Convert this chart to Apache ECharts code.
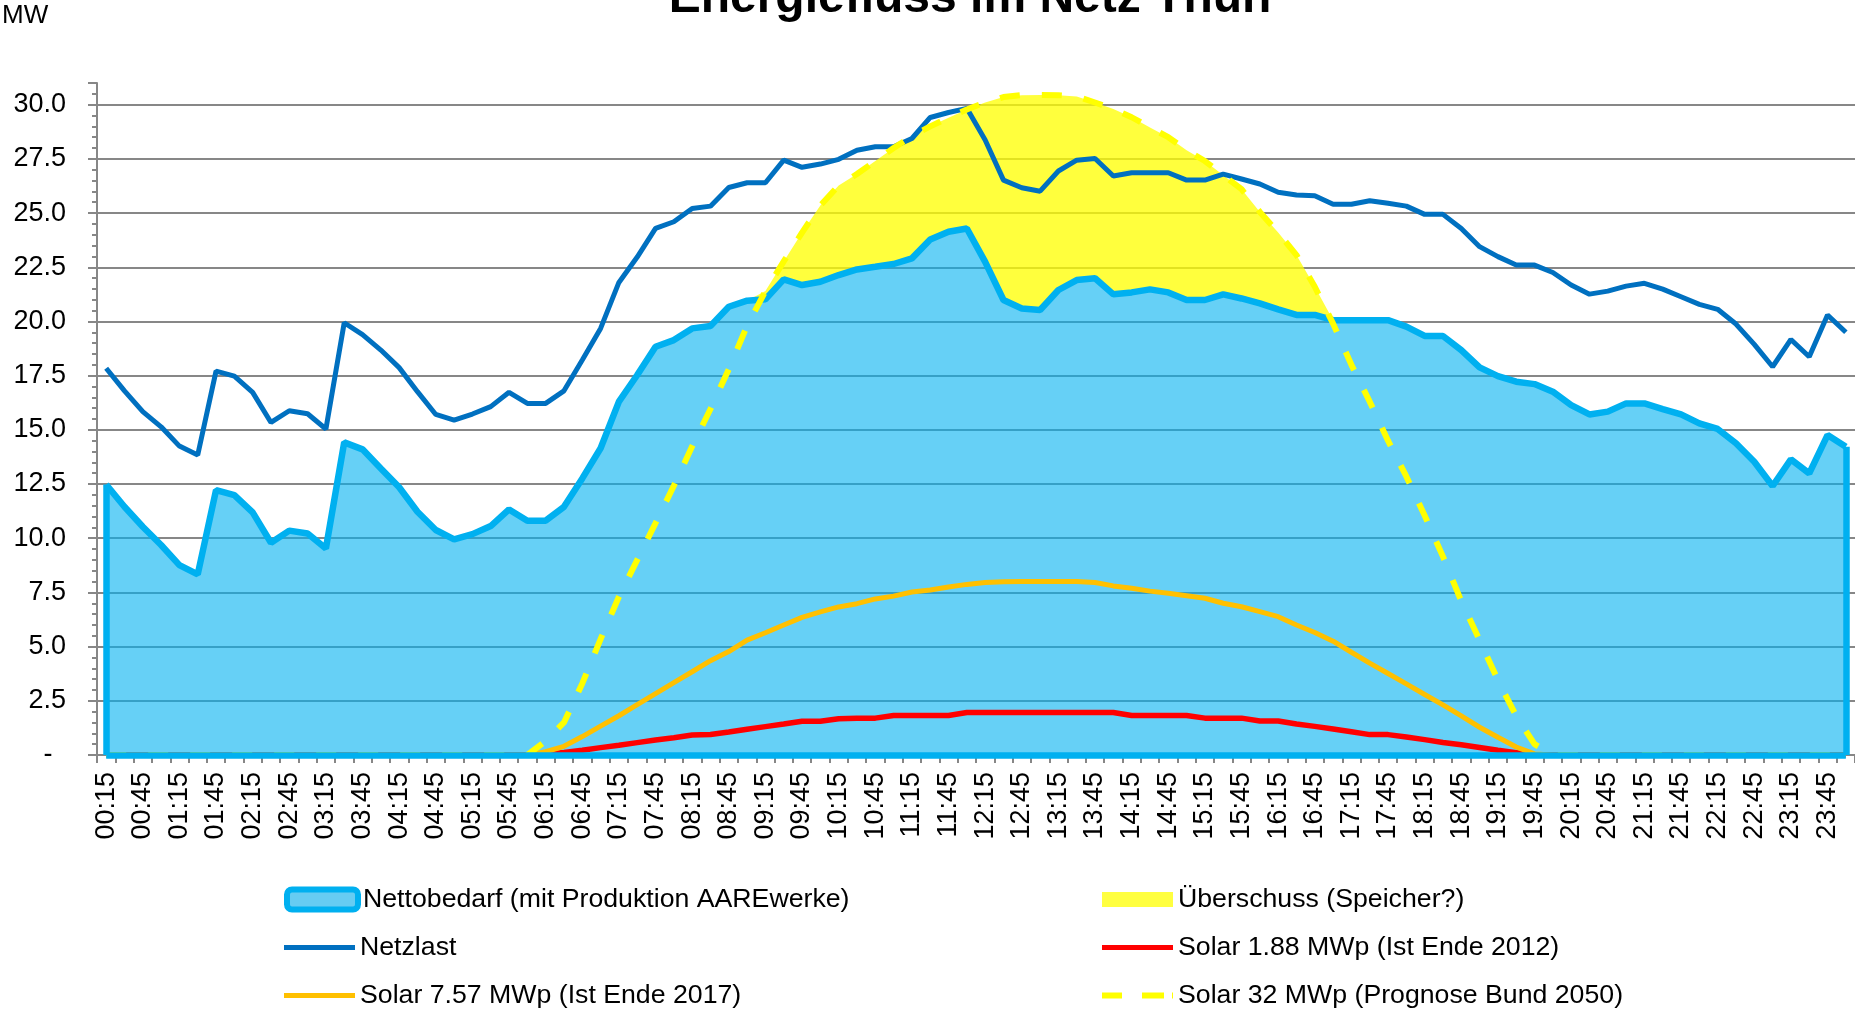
<!DOCTYPE html>
<html>
<head>
<meta charset="utf-8">
<script src="https://cdn.jsdelivr.net/npm/echarts@6/dist/echarts.min.js"></script>
<style>
html,body{margin:0;padding:0;background:#fff;}
#chart{width:1855px;height:1013px;}
</style>
</head>
<body>
<div id="chart"></div>
<script>
const titleText = 'Energiefluss im Netz Thun';
const unitLabel = 'MW';

const categories = [
'00:15','00:30','00:45','01:00','01:15','01:30','01:45','02:00','02:15','02:30','02:45','03:00',
'03:15','03:30','03:45','04:00','04:15','04:30','04:45','05:00','05:15','05:30','05:45','06:00',
'06:15','06:30','06:45','07:00','07:15','07:30','07:45','08:00','08:15','08:30','08:45','09:00',
'09:15','09:30','09:45','10:00','10:15','10:30','10:45','11:00','11:15','11:30','11:45','12:00',
'12:15','12:30','12:45','13:00','13:15','13:30','13:45','14:00','14:15','14:30','14:45','15:00',
'15:15','15:30','15:45','16:00','16:15','16:30','16:45','17:00','17:15','17:30','17:45','18:00',
'18:15','18:30','18:45','19:00','19:15','19:30','19:45','20:00','20:15','20:30','20:45','21:00',
'21:15','21:30','21:45','22:00','22:15','22:30','22:45','23:00','23:15','23:30','23:45','24:00'
];

const nettobedarf = [
12.48,11.45,10.53,9.69,8.76,8.33,12.22,11.99,11.19,9.79,10.35,10.22,
9.53,14.42,14.10,13.22,12.35,11.22,10.38,9.95,10.19,10.56,11.33,10.81,
10.81,11.45,12.76,14.15,16.30,17.53,18.83,19.14,19.68,19.79,20.68,20.96,
21.02,21.94,21.68,21.83,22.14,22.40,22.52,22.65,22.91,23.78,24.14,24.29,
22.75,20.99,20.60,20.53,21.45,21.91,21.99,21.25,21.34,21.48,21.34,20.99,
20.99,21.25,21.06,20.83,20.56,20.30,20.30,20.06,20.06,20.06,20.06,19.76,
19.33,19.33,18.68,17.88,17.48,17.22,17.11,16.76,16.14,15.71,15.84,16.22,
16.22,15.96,15.71,15.30,15.04,14.38,13.53,12.41,13.64,12.99,14.76,14.22
];

const ueberschuss = [
0,0,0,0,0,0,0,0,0,0,0,0,
0,0,0,0,0,0,0,0,0,0,0,0,
0,0,0,0,0,0,0,0,0,0,0,0,
0.38,0.83,2.42,3.52,4.13,4.40,4.88,5.35,5.64,5.22,5.26,5.49,
7.35,9.36,9.84,9.92,8.99,8.47,8.11,8.55,8.08,7.47,7.16,6.91,
6.41,5.50,5.04,4.22,3.54,2.76,1.30,0,0,0,0,0,
0,0,0,0,0,0,0,0,0,0,0,0,
0,0,0,0,0,0,0,0,0,0,0,0
];

const netzlast = [
17.84,16.80,15.84,15.14,14.25,13.84,17.71,17.48,16.73,15.34,15.88,15.74,
15.04,19.94,19.39,18.68,17.87,16.76,15.71,15.45,15.73,16.07,16.73,16.22,
16.22,16.80,18.22,19.68,21.80,22.97,24.29,24.60,25.21,25.32,26.18,26.40,
26.40,27.44,27.11,27.26,27.48,27.90,28.06,28.06,28.44,29.41,29.64,29.83,
28.37,26.52,26.17,26.01,26.94,27.44,27.52,26.71,26.86,26.86,26.86,26.52,
26.52,26.80,26.57,26.34,25.96,25.83,25.80,25.41,25.41,25.57,25.45,25.32,
24.94,24.94,24.29,23.45,22.99,22.60,22.60,22.26,21.68,21.26,21.40,21.63,
21.76,21.49,21.14,20.79,20.56,19.88,18.94,17.91,19.17,18.37,20.30,19.50
];

const solar188 = [
0,0,0,0,0,0,0,0,0,0,0,0,
0,0,0,0,0,0,0,0,0,0,0,0,
0.03,0.12,0.22,0.34,0.45,0.57,0.69,0.80,0.92,0.95,1.06,1.19,
1.31,1.43,1.56,1.56,1.67,1.70,1.70,1.82,1.82,1.82,1.82,1.96,
1.96,1.96,1.96,1.96,1.96,1.96,1.96,1.96,1.82,1.82,1.82,1.82,
1.70,1.70,1.70,1.57,1.57,1.43,1.32,1.20,1.07,0.94,0.94,0.83,
0.71,0.58,0.47,0.35,0.22,0.11,0,0,0,0,0,0,
0,0,0,0,0,0,0,0,0,0,0,0
];

const solar757 = [
0,0,0,0,0,0,0,0,0,0,0,0,
0,0,0,0,0,0,0,0,0,0,0,0,
0.15,0.40,0.85,1.33,1.81,2.32,2.83,3.34,3.84,4.35,4.77,5.30,
5.64,6.00,6.35,6.60,6.83,6.98,7.20,7.33,7.52,7.61,7.75,7.87,
7.96,7.99,8.00,8.00,8.00,8.00,7.96,7.80,7.69,7.56,7.46,7.35,
7.23,7.00,6.84,6.61,6.38,6.00,5.65,5.25,4.74,4.24,3.76,3.28,
2.79,2.31,1.80,1.28,0.82,0.37,0.05,0,0,0,0,0,
0,0,0,0,0,0,0,0,0,0,0,0
];

const solar32 = [
0,0,0,0,0,0,0,0,0,0,0,0,
0,0,0,0,0,0,0,0,0,0,0,0,
0.65,1.50,3.30,5.35,7.30,9.00,10.70,12.42,14.24,15.96,17.80,19.80,
21.40,22.77,24.10,25.35,26.27,26.80,27.40,28.00,28.55,29.00,29.40,29.78,
30.10,30.35,30.44,30.45,30.44,30.38,30.10,29.80,29.42,28.95,28.50,27.90,
27.40,26.75,26.10,25.05,24.10,23.06,21.60,19.90,18.00,16.30,14.50,12.85,
11.05,9.15,7.10,5.30,3.45,1.80,0.50,0,0,0,0,0,
0,0,0,0,0,0,0,0,0,0,0,0
];

const seriesNames = [
  'Nettobedarf (mit Produktion AAREwerke)',
  'Überschuss (Speicher?)',
  'Netzlast',
  'Solar 1.88 MWp (Ist Ende 2012)',
  'Solar 7.57 MWp (Ist Ende 2017)',
  'Solar 32 MWp (Prognose Bund 2050)'
];

const FONT = '"Liberation Sans", Arial, sans-serif';
const GREY = '#878787';
const last = categories.length - 1;

const chart = echarts.init(document.getElementById('chart'), null, {renderer: 'canvas'});

function legendBox(name, left, top, icon, h, itemStyle) {
  return {
    orient: 'horizontal', left: left, top: top, padding: 0,
    itemWidth: 71, itemHeight: h, itemGap: 10, selectedMode: false,
    textStyle: {fontSize: 26.7, color: '#000', fontFamily: FONT},
    data: [{name: name, icon: icon, itemStyle: itemStyle}]
  };
}
const rowTop = [886, 934, 982];
const colLeft = [284, 1102];
const dashIcon = 'path://M0,0h20v6h-20z M40,0h22v6h-22z M70,0h1v6h-1z';

const option = {
  animation: false,
  backgroundColor: '#ffffff',
  textStyle: {fontFamily: FONT},
  grid: {left: 97, top: 83, width: 1759, height: 672, containLabel: false},
  graphic: [
    {type: 'text', x: 970, y: -1, style: {text: titleText, font: 'bold 48px ' + FONT, fill: '#000', textAlign: 'center', align: 'center', textVerticalAlign: 'middle', verticalAlign: 'middle'}},
    {type: 'text', x: 2, y: 16, style: {text: unitLabel, font: '26px ' + FONT, fill: '#000', textAlign: 'left', align: 'left', textVerticalAlign: 'middle', verticalAlign: 'middle'}}
  ],
  legend: [
    legendBox(seriesNames[0], colLeft[0], rowTop[0], 'roundRect', 20, {color: '#66CCF2', borderColor: '#00B0F0', borderWidth: 6}),
    legendBox(seriesNames[2], colLeft[0], rowTop[1], 'rect', 5, {color: '#0070C0', borderWidth: 0}),
    legendBox(seriesNames[4], colLeft[0], rowTop[2], 'rect', 5, {color: '#FFC000', borderWidth: 0}),
    legendBox(seriesNames[1], colLeft[1], rowTop[0], 'rect', 15, {color: '#FFFF40', borderWidth: 0}),
    legendBox(seriesNames[3], colLeft[1], rowTop[1], 'rect', 5, {color: '#FF0000', borderWidth: 0}),
    legendBox(seriesNames[5], colLeft[1], rowTop[2], dashIcon, 6, {color: '#FFFF00', borderWidth: 0})
  ],
  xAxis: {
    type: 'category',
    data: categories,
    boundaryGap: true,
    axisLine: {show: true, lineStyle: {color: GREY, width: 2}},
    axisTick: {show: true, interval: 0, length: 8, lineStyle: {color: GREY, width: 2}},
    axisLabel: {interval: 1, rotate: 90, margin: 17, fontSize: 27, color: '#000', fontFamily: FONT},
    splitLine: {show: false}
  },
  yAxis: {
    type: 'value',
    min: 0, max: 31, interval: 2.5,
    axisLine: {show: true, lineStyle: {color: GREY, width: 2}},
    axisTick: {show: true, length: 9, lineStyle: {color: GREY, width: 2}},
    minorTick: {show: true, splitNumber: 5, length: 5, lineStyle: {color: GREY, width: 2}},
    splitLine: {show: true, showMaxLine: false, lineStyle: {color: GREY, width: 2}},
    axisLabel: {
      margin: 31, fontSize: 27, color: '#000', fontFamily: FONT, showMaxLabel: false,
      formatter: function (v) { return v === 0 ? '-\u2002' : v.toFixed(1); }
    }
  },
  series: [
    {
      name: seriesNames[0], type: 'line', stack: 'load', data: nettobedarf,
      symbol: 'none', showSymbol: false,
      itemStyle: {color: '#00B0F0'},
      lineStyle: {color: '#00B0F0', width: 6.5},
      areaStyle: {color: 'rgba(0,176,240,0.6)', opacity: 1},
      markLine: {
        silent: true, symbol: ['none', 'none'], label: {show: false},
        lineStyle: {color: '#00B0F0', width: 6.5, type: 'solid'},
        emphasis: {disabled: true},
        data: [
          [{coord: [categories[0], 0]}, {coord: [categories[0], nettobedarf[0]]}],
          [{coord: [categories[last], 0]}, {coord: [categories[last], nettobedarf[last]]}],
          [{coord: [categories[0], 0]}, {coord: [categories[last], 0]}]
        ]
      }
    },
    {
      name: seriesNames[1], type: 'line', stack: 'load', data: ueberschuss,
      symbol: 'none', showSymbol: false,
      itemStyle: {color: '#FFFF40'},
      lineStyle: {width: 0, opacity: 0},
      areaStyle: {color: 'rgba(255,255,0,0.76)', opacity: 1}
    },
    {
      name: seriesNames[2], type: 'line', data: netzlast,
      symbol: 'none', showSymbol: false,
      itemStyle: {color: '#0070C0'},
      lineStyle: {color: '#0070C0', width: 5}
    },
    {
      name: seriesNames[3], type: 'line', data: solar188,
      symbol: 'none', showSymbol: false,
      itemStyle: {color: '#FF0000'},
      lineStyle: {color: '#FF0000', width: 5.5}
    },
    {
      name: seriesNames[4], type: 'line', data: solar757,
      symbol: 'none', showSymbol: false,
      itemStyle: {color: '#FFC000'},
      lineStyle: {color: '#FFC000', width: 5}
    },
    {
      name: seriesNames[5], type: 'line', data: solar32,
      symbol: 'none', showSymbol: false,
      itemStyle: {color: '#FFFF00'},
      lineStyle: {color: '#FFFF00', width: 6, type: [20, 22], cap: 'butt'}
    }
  ]
};

chart.setOption(option);
</script>
</body>
</html>
